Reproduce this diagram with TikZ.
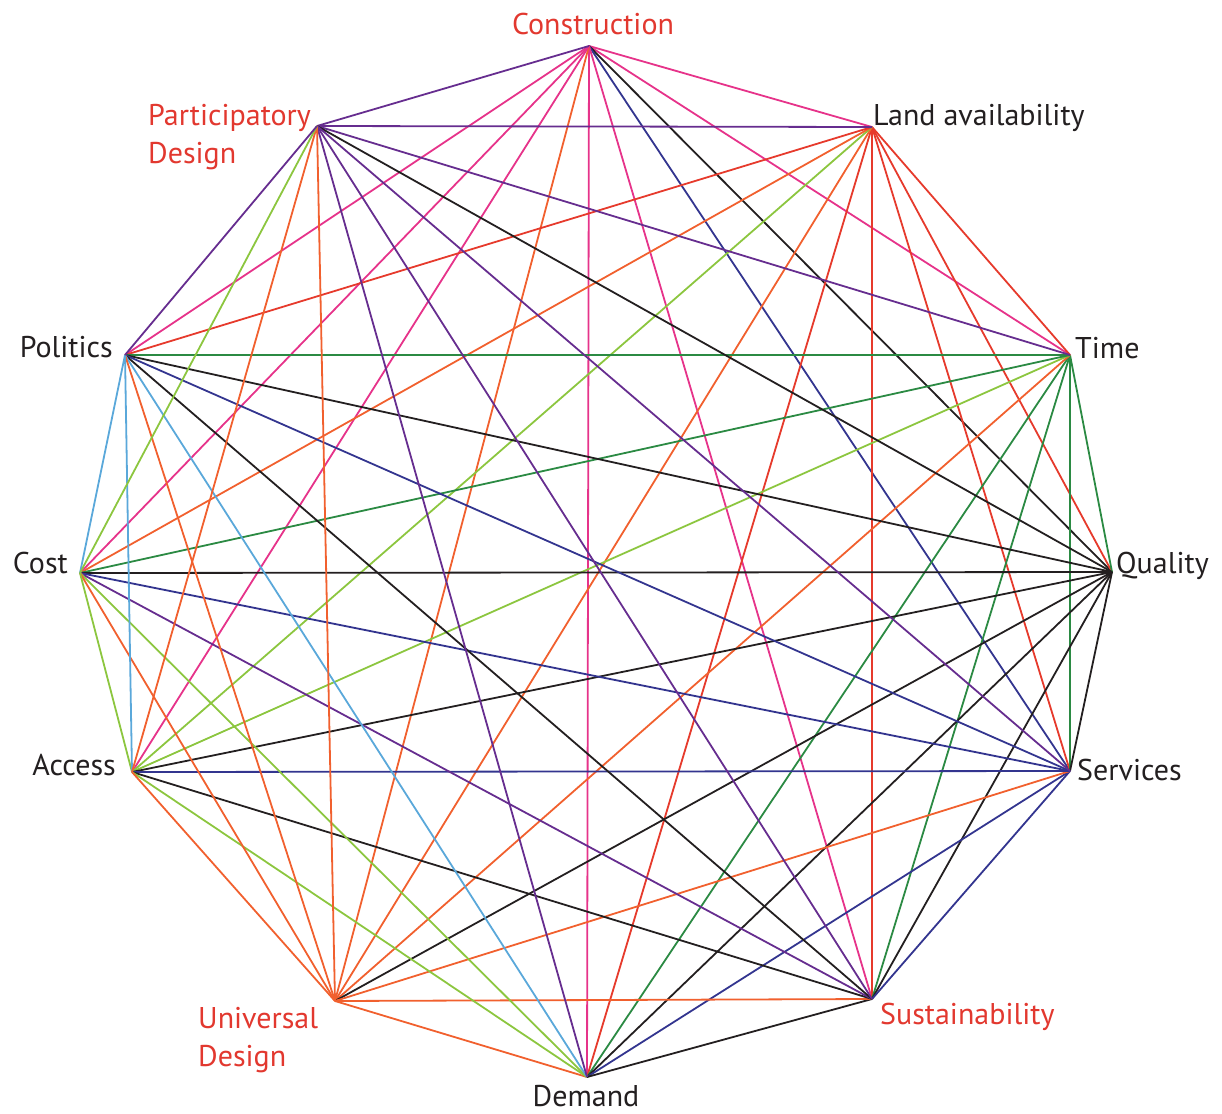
\documentclass[tikz,border=0pt]{standalone}
\usepackage{fontspec}
\setmainfont{PT Sans}
\definecolor{cpink}{HTML}{E6338A}
\definecolor{cred}{HTML}{E63A2C}
\definecolor{corange}{HTML}{F1602E}
\definecolor{cgreen}{HTML}{2B8A43}
\definecolor{clgreen}{HTML}{8CC63F}
\definecolor{clblue}{HTML}{5AA8DA}
\definecolor{cpurple}{HTML}{662D8F}
\definecolor{cnavy}{HTML}{33358F}
\definecolor{cblack}{HTML}{231F20}
\definecolor{lblred}{HTML}{E2382F}
\begin{document}
\begin{tikzpicture}[x=1pt,y=-1pt,
  edge/.style={line width=1.8pt},
  lbl/.style={font=\fontsize{30}{38}\selectfont, inner sep=0pt, text=cblack},
  redlbl/.style={lbl, text=lblred}]
\useasboundingbox (0,0) rectangle (1222,1113);
% vertices of the twelve-sided figure
\coordinate (C)  at (589,46);
\coordinate (L)  at (872,127);
\coordinate (T)  at (1070,355);
\coordinate (Q)  at (1112,572);
\coordinate (S)  at (1070,771);
\coordinate (Su) at (872,999);
\coordinate (D)  at (587,1077);
\coordinate (U)  at (335,1001);
\coordinate (A)  at (132,772);
\coordinate (Co) at (80,573);
\coordinate (Po) at (125,355);
\coordinate (P)  at (317,126);
% every pair of vertices is joined
\foreach \a/\b/\c in {
  C/L/cpink, C/T/cpink, C/Q/cblack, C/S/cnavy, C/Su/cpink, C/D/cpink,
  C/U/corange, C/A/cpink, C/Co/cpink, C/Po/cpink, C/P/cpurple,
  L/T/cred, L/Q/cred, L/S/cred, L/Su/cred, L/D/cred, L/U/corange,
  L/A/clgreen, L/Co/corange, L/Po/cred, L/P/cpurple,
  T/Q/cgreen, T/S/cgreen, T/Su/cgreen, T/D/cgreen, T/U/corange,
  T/A/clgreen, T/Co/cgreen, T/Po/cgreen, T/P/cpurple,
  Q/S/cblack, Q/Su/cblack, Q/D/cblack, Q/U/cblack, Q/A/cblack,
  Q/Co/cblack, Q/Po/cblack, Q/P/cblack,
  S/Su/cnavy, S/D/cnavy, S/U/corange, S/A/cnavy, S/Co/cnavy,
  S/Po/cnavy, S/P/cpurple,
  Su/D/cblack, Su/U/corange, Su/A/cblack, Su/Co/cpurple, Su/Po/cblack,
  Su/P/cpurple,
  D/U/corange, D/A/clgreen, D/Co/clgreen, D/Po/clblue, D/P/cpurple,
  U/A/corange, U/Co/corange, U/Po/corange, U/P/corange,
  A/Co/clgreen, A/Po/clblue, A/P/corange,
  Co/Po/clblue, Co/P/clgreen,
  Po/P/cpurple}
  \draw[edge,\c] (\a) -- (\b);
% labels
\node[redlbl, anchor=base] (tC) at (593,35) {Construction};
\node[lbl, anchor=base west] (tL) at (873,125) {Land availability};
\node[lbl, anchor=base west] (tT) at (1075,358) {Time};
\node[lbl, anchor=base west] (tQ) at (1116,573) {Quality};
\node[lbl, anchor=base west] (tS) at (1077,780) {Services};
\node[redlbl, anchor=base west] (tSu) at (880,1024) {Sustainability};
\node[lbl, anchor=base] (tD) at (586,1106) {Demand};
\node[redlbl, anchor=base west, align=left] (tU) at (198,1066) {Universal\\Design};
\node[lbl, anchor=base east] (tA) at (116,775) {Access};
\node[lbl, anchor=base east] (tCo) at (68,573) {Cost};
\node[lbl, anchor=base east] (tPo) at (113,357) {Politics};
\node[redlbl, anchor=base west, align=left] (tP) at (148,163) {Participatory\\Design};
\end{tikzpicture}
\end{document}
